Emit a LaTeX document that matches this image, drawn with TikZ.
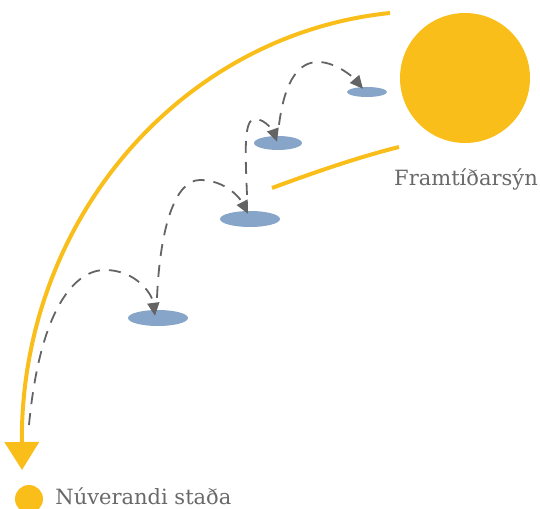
\documentclass[tikz,border=0pt]{standalone}
\usepackage{fontspec}
\setmainfont{DejaVu Serif}
\usetikzlibrary{arrows.meta, shapes.geometric, positioning}
\definecolor{sunyellow}{RGB}{249, 190, 26}
\definecolor{padblue}{RGB}{135, 165, 200}
\definecolor{hopgray}{RGB}{100, 100, 100}
\definecolor{txtgray}{RGB}{105, 105, 105}

\begin{document}
\begin{tikzpicture}[
          x=1pt, y=1pt,
          pad/.style={ellipse, fill=padblue, inner sep=0pt},
          hop/.style={-{Triangle[length=13pt, width=12pt]}, line width=1.8pt, color=hopgray,
                      dash pattern=on 12pt off 9pt},
          trail/.style={line width=4pt, color=sunyellow},
          lbl/.style={font=\fontsize{21}{24}\selectfont, text=txtgray, inner sep=0pt},
        ]
        \useasboundingbox (0,0) rectangle (540,508);
        % goal and start
        \node[circle, fill=sunyellow, minimum size=130pt, inner sep=0pt] (sun) at (465,430) {};
        \node[circle, fill=sunyellow, minimum size=28pt, inner sep=0pt] (now) at (29,9) {};
        \node[lbl, right=12pt of now, yshift=3pt] (nowtxt) {Núverandi staða};
        \node[lbl, anchor=base] (suntxt) at (466,322) {Framtíðarsýn};
        % stepping stones
        \node[pad, minimum width=60pt, minimum height=16pt] (p1) at (158,190) {};
        \node[pad, minimum width=60pt, minimum height=16pt] (p2) at (250,289) {};
        \node[pad, minimum width=48pt, minimum height=14pt] (p3) at (278,365) {};
        \node[pad, minimum width=40pt, minimum height=10pt] (p4) at (367,416) {};
        \coordinate (jump) at (29,83);
        \coordinate (far) at (390,495);
        \coordinate (tip) at (22,38);
        \coordinate (inner) at (272,320);
        \coordinate (innerend) at (399,361);
        % yellow trails
        \draw[trail, -{Triangle[length=28pt, width=34pt]}] (far)
              arc[start angle=95.6, end angle=180, x radius=408, y radius=429] -- (tip);
        \draw[trail] (inner) .. controls (310,334) and (355,350) .. (innerend);
        % hops
        \draw[hop] (jump) .. controls (40,200) and (75,238) .. (105,238)
                          .. controls (135,238) and (152,215) .. ([shift={(-3,-6)}]p1.north);
        \draw[hop] ([shift={(-1,12)}]p1.north) .. controls (160,280) and (175,328) .. (200,328)
                          .. controls (225,328) and (240,310) .. ([shift={(-2,-3)}]p2.north);
        \draw[hop] ([shift={(-3,16)}]p2.north) .. controls (245,360) and (244,389) .. (255,389)
                          .. controls (266,389) and (274,375) .. ([shift={(-1,-6)}]p3.north);
        \draw[hop] ([shift={(1,11)}]p3.north) .. controls (285,430) and (300,446) .. (318,446)
                          .. controls (335,446) and (352,432) .. ([shift={(-4,-2)}]p4.north);
      \end{tikzpicture}
\end{document}
